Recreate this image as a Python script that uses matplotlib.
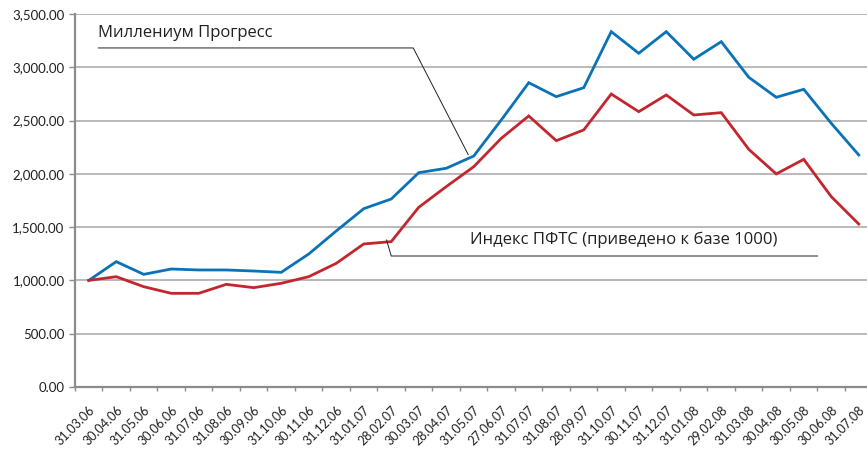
""" Line chart: Миллениум Прогресс vs Индекс ПФТС (normalized to 1000). """
import matplotlib
matplotlib.use('Agg')
import matplotlib.pyplot as plt
from matplotlib.ticker import FuncFormatter, FixedLocator

dates = ['31.03.06', '30.04.06', '31.05.06', '30.06.06', '31.07.06', '31.08.06',
         '30.09.06', '31.10.06', '30.11.06', '31.12.06', '31.01.07', '28.02.07',
         '30.03.07', '28.04.07', '31.05.07', '27.06.07', '31.07.07', '31.08.07',
         '28.09.07', '31.10.07', '30.11.07', '31.12.07', '31.01.08', '29.02.08',
         '31.03.08', '30.04.08', '30.05.08', '30.06.08', '31.07.08']

millenium = [1000, 1176, 1057, 1107, 1098, 1098, 1088, 1076, 1248, 1464, 1673,
             1764, 2011, 2052, 2167, 2505, 2855, 2724, 2808, 3334, 3131, 3334,
             3075, 3240, 2906, 2718, 2793, 2474, 2177]

pfts = [1000, 1035, 941, 879, 879, 963, 932, 973, 1035, 1160, 1342, 1364, 1686,
        1880, 2067, 2333, 2543, 2311, 2412, 2749, 2583, 2740, 2552, 2574, 2230,
        1999, 2136, 1786, 1529]

label_mill = 'Миллениум Прогресс'
label_pfts = 'Индекс ПФТС (приведено к базе 1000)'

plt.rcParams['font.family'] = ['Open Sans', 'DejaVu Sans']
text_color = '#231f20'

fig = plt.figure(figsize=(8.67, 4.5), dpi=100)
ax = fig.add_axes([0.0865, 0.14, 0.9135, 0.829])

xs = list(range(len(dates)))
ax.plot(xs, millenium, color='#0a72b8', lw=2.0, solid_joinstyle='miter', zorder=3)
ax.plot(xs, pfts, color='#c4262e', lw=2.0, solid_joinstyle='miter', zorder=3)

ax.set_ylim(0, 3500)
ax.set_xlim(-0.5, len(dates) - 0.7)
ax.set_yticks(range(0, 3501, 500))
ax.yaxis.set_major_formatter(FuncFormatter(lambda v, p: f'{v:,.2f}'))
ax.grid(axis='y', color='#a6a6a6', lw=1.1)
ax.set_axisbelow(True)

# Category ticks at boundaries, labels at centres (Excel style).
ax.xaxis.set_major_locator(FixedLocator([i - 0.5 for i in range(len(dates) + 1)]))
ax.xaxis.set_minor_locator(FixedLocator(xs))
ax.set_xticklabels([], minor=False)
ax.set_xticklabels(dates, minor=True, rotation=45, ha='right',
                   rotation_mode='anchor', fontsize=9, family=['Lato', 'DejaVu Sans'],
                   color=text_color)
ax.tick_params(axis='x', which='minor', length=0, pad=12)
ax.tick_params(axis='x', which='major', length=3, color='#8c8c8c', width=1)
ax.tick_params(axis='y', length=4, color='#8c8c8c', width=1, labelsize=9.5,
               labelcolor=text_color)
for lbl in ax.get_yticklabels():
    lbl.set_family(['Lato', 'DejaVu Sans'])

for side in ['top', 'right']:
    ax.spines[side].set_visible(False)
for side in ['left', 'bottom']:
    ax.spines[side].set_color('#8c8c8c')
    ax.spines[side].set_linewidth(1.6)

# Callout labels.
ax.text(0.35, 3250, label_mill, fontsize=12, color=text_color, va='bottom')
ax.plot([0.35, 11.8, 13.8], [3181, 3181, 2180], color=text_color, lw=0.7, zorder=4)

ax.text(13.85, 1300, label_pfts, fontsize=12, color=text_color, va='bottom')
ax.plot([26.5, 11.0, 10.83], [1229, 1229, 1379], color=text_color, lw=0.7, zorder=4)

fig.savefig('out.png', dpi=100)
